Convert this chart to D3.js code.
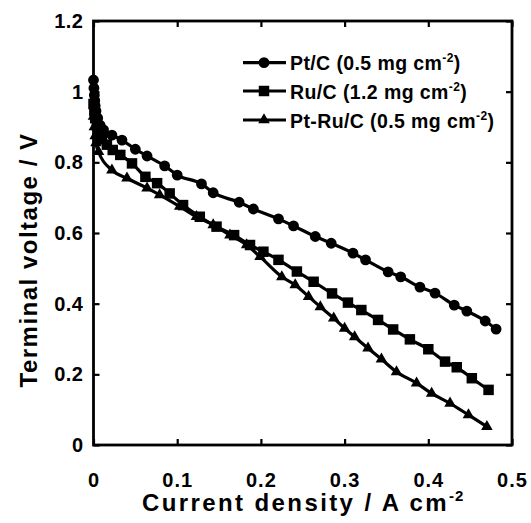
<!DOCTYPE html>
<html><head><meta charset="utf-8">
<script src="https://cdn.jsdelivr.net/npm/d3@7"></script>
<style>
html,body{margin:0;padding:0;background:#fff;}
text{font-family:"Liberation Sans",Arial,sans-serif;font-weight:bold;fill:#000;}
</style></head>
<body><svg id="c" width="531" height="523"></svg>
<script>
// ---- data ----
const ptcX = [0, 0.0005, 0.001, 0.0015, 0.002, 0.003, 0.005, 0.008, 0.012, 0.022, 0.034, 0.050, 0.064, 0.085, 0.100, 0.129, 0.143, 0.174, 0.191, 0.221, 0.239, 0.265, 0.284, 0.310, 0.325, 0.352, 0.367, 0.390, 0.408, 0.431, 0.446, 0.468, 0.481];
const ptcY = [1.033, 1.01, 0.99, 0.975, 0.96, 0.945, 0.925, 0.905, 0.892, 0.877, 0.863, 0.837, 0.818, 0.790, 0.764, 0.739, 0.714, 0.687, 0.668, 0.640, 0.620, 0.590, 0.571, 0.543, 0.524, 0.490, 0.476, 0.447, 0.430, 0.396, 0.379, 0.351, 0.328];
const rucX = [0, 0.001, 0.002, 0.004, 0.006, 0.010, 0.016, 0.023, 0.032, 0.046, 0.062, 0.076, 0.091, 0.107, 0.127, 0.147, 0.168, 0.187, 0.203, 0.221, 0.243, 0.263, 0.285, 0.304, 0.320, 0.340, 0.358, 0.378, 0.400, 0.420, 0.434, 0.452, 0.472];
const rucY = [0.965, 0.945, 0.925, 0.905, 0.885, 0.865, 0.850, 0.835, 0.821, 0.797, 0.759, 0.741, 0.712, 0.679, 0.646, 0.618, 0.594, 0.566, 0.547, 0.524, 0.491, 0.462, 0.429, 0.403, 0.382, 0.354, 0.327, 0.299, 0.271, 0.236, 0.220, 0.189, 0.156];
const ptrucX = [0, 0.001, 0.002, 0.003, 0.006, 0.022, 0.040, 0.064, 0.079, 0.103, 0.123, 0.143, 0.163, 0.183, 0.199, 0.225, 0.241, 0.257, 0.271, 0.287, 0.300, 0.312, 0.328, 0.344, 0.362, 0.386, 0.404, 0.426, 0.448, 0.470];
const ptrucY = [0.93, 0.90, 0.875, 0.855, 0.830, 0.778, 0.755, 0.727, 0.708, 0.675, 0.646, 0.623, 0.594, 0.566, 0.533, 0.476, 0.453, 0.420, 0.391, 0.359, 0.330, 0.306, 0.274, 0.243, 0.207, 0.175, 0.146, 0.118, 0.085, 0.052];
const seriesNames = ["Pt/C (0.5 mg cm", "Ru/C (1.2 mg cm", "Pt-Ru/C (0.5 mg cm"];
const xTicks = [0, 0.1, 0.2, 0.3, 0.4, 0.5];
const yTicks = [0, 0.2, 0.4, 0.6, 0.8, 1, 1.2];
const xTitle = "Current density / A cm";
const yTitle = "Terminal voltage / V";

// ---- chart ----
const svg = d3.select("#c");
const L = 93.5, R = 512, T = 21, B = 445;
const x = d3.scaleLinear().domain([0, 0.5]).range([L, R]);
const y = d3.scaleLinear().domain([0, 1.2]).range([B, T]);

const series = [
  {name: seriesNames[0], xs: ptcX, ys: ptcY, sym: d3.symbolCircle, size: 92},
  {name: seriesNames[1], xs: rucX, ys: rucY, sym: d3.symbolSquare, size: 110},
  {name: seriesNames[2], xs: ptrucX, ys: ptrucY, sym: d3.symbolTriangle, size: 58}
];

const line = d3.line().x(d => x(d[0])).y(d => y(d[1])).curve(d3.curveMonotoneX);
series.forEach(s => {
  const pts = s.xs.map((v, i) => [v, s.ys[i]]);
  svg.append("path").attr("d", line(pts)).attr("fill", "none").attr("stroke", "#000").attr("stroke-width", 3.2);
  svg.append("g").selectAll("path").data(pts).join("path")
    .attr("transform", d => `translate(${x(d[0])},${y(d[1])})`)
    .attr("d", d3.symbol().type(s.sym).size(s.size))
    .attr("fill", "#000");
});

// axes (ticks inward on all sides)
const tl = 6;
svg.append("g").attr("transform", `translate(0,${B})`)
  .call(d3.axisBottom(x).tickValues(xTicks).tickSize(-tl).tickFormat(d3.format("")).tickPadding(28))
  .call(g => { g.select(".domain").remove(); g.selectAll("line").attr("stroke-width", 2.2);
    g.selectAll("text").attr("font-size", 20).attr("letter-spacing", 1).attr("dy", "0.71em"); });
svg.append("g").attr("transform", `translate(0,${T})`)
  .call(d3.axisTop(x).tickValues(xTicks).tickSize(-tl).tickFormat(""))
  .call(g => { g.select(".domain").remove(); g.selectAll("line").attr("stroke-width", 2.2); });
svg.append("g").attr("transform", `translate(${L},0)`)
  .call(d3.axisLeft(y).tickValues(yTicks).tickSize(-tl).tickFormat(d3.format("")).tickPadding(10))
  .call(g => { g.select(".domain").remove(); g.selectAll("line").attr("stroke-width", 2.2);
    g.selectAll("text").attr("font-size", 20).attr("letter-spacing", 0.5); });
svg.append("g").attr("transform", `translate(${R},0)`)
  .call(d3.axisRight(y).tickValues(yTicks).tickSize(-tl).tickFormat(""))
  .call(g => { g.select(".domain").remove(); g.selectAll("line").attr("stroke-width", 2.2); });
svg.append("rect").attr("x", L).attr("y", T).attr("width", R - L).attr("height", B - T)
  .attr("fill", "none").attr("stroke", "#000").attr("stroke-width", 2.8);

// titles
const xt = svg.append("text").attr("x", 142).attr("y", 511).attr("font-size", 24).attr("letter-spacing", 2.4);
xt.append("tspan").text(xTitle);
xt.append("tspan").attr("dy", -10).attr("font-size", 15).attr("letter-spacing", 1).text("-2");
svg.append("text").attr("transform", `translate(37,${(T + B) / 2 + 27}) rotate(-90)`)
  .attr("text-anchor", "middle").attr("font-size", 24).attr("letter-spacing", 1.5).text(yTitle);

// legend
const legY = [62.7, 91, 120];
series.forEach((s, i) => {
  const g = svg.append("g").attr("transform", `translate(0,${legY[i]})`);
  g.append("line").attr("x1", 243).attr("x2", 286).attr("y1", 0).attr("y2", 0).attr("stroke", "#000").attr("stroke-width", 3.2);
  g.append("path").attr("transform", "translate(264,0)").attr("d", d3.symbol().type(s.sym).size(s.size)).attr("fill", "#000");
  const t = g.append("text").attr("x", 290).attr("y", 7.5).attr("font-size", 19.5).attr("letter-spacing", 0.4);
  t.append("tspan").text(s.name);
  t.append("tspan").attr("dy", -8).attr("font-size", 12).text("-2");
  t.append("tspan").attr("dy", 8).text(")");
});
</script></body></html>
